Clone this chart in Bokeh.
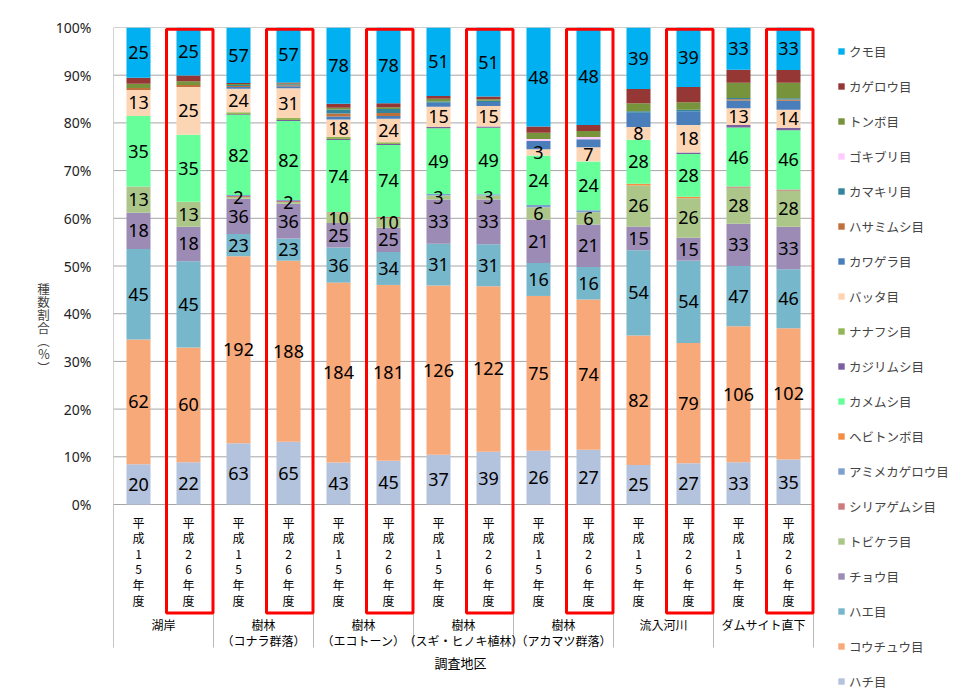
from bokeh.plotting import figure
from bokeh.models import ColumnDataSource, Range1d, FixedTicker, Legend, LegendItem
from bokeh.core.properties import value
from bokeh.embed import file_html
from bokeh.resources import INLINE

# ---- data ----
sites = ["湖岸", "樹林\n（コナラ群落）", "樹林\n（エコトーン）", "樹林\n（スギ・ヒノキ植林）",
         "樹林\n（アカマツ群落）", "流入河川", "ダムサイト直下"]
years = ["平成15年度", "平成26年度"]
x_title = "調査地区"
y_title = "種数割合︵%︶"

orders = ["ハチ目", "コウチュウ目", "ハエ目", "チョウ目", "トビケラ目", "シリアゲムシ目",
          "アミメカゲロウ目", "ヘビトンボ目", "カメムシ目", "カジリムシ目", "ナナフシ目",
          "バッタ目", "カワゲラ目", "ハサミムシ目", "カマキリ目", "ゴキブリ目", "トンボ目",
          "カゲロウ目", "クモ目"]

hachi      = [20, 22, 63, 65, 43, 45, 37, 39, 26, 27, 25, 27, 33, 35]
kouchuu    = [62, 60, 192, 188, 184, 181, 126, 122, 75, 74, 82, 79, 106, 102]
hae        = [45, 45, 23, 23, 36, 34, 31, 31, 16, 16, 54, 54, 47, 46]
chou       = [18, 18, 36, 36, 25, 25, 33, 33, 21, 21, 15, 15, 33, 33]
tobikera   = [13, 13, 2, 2, 10, 10, 3, 3, 6, 6, 26, 26, 28, 28]
shiriage   = [0, 0, 1, 1, 1, 1, 0, 0, 0, 0, 0, 0, 1, 1]
amime      = [0, 0, 1, 1, 0, 0, 1, 1, 1, 1, 0, 0, 0, 0]
hebitonbo  = [0, 0, 0, 0, 0, 0, 0, 0, 0, 0, 1, 1, 0, 0]
kamemushi  = [35, 35, 82, 82, 74, 74, 49, 49, 24, 24, 28, 28, 46, 46]
kajiri     = [0, 0, 1, 1, 1, 1, 1, 1, 0, 0, 0, 1, 2, 2]
nanafushi  = [0, 0, 2, 2, 2, 2, 0, 0, 0, 0, 0, 0, 0, 0]
batta      = [13, 25, 24, 31, 18, 24, 15, 15, 3, 7, 8, 18, 13, 14]
kawagera   = [0, 0, 2, 2, 3, 3, 3, 3, 4, 4, 9, 9, 6, 7]
hasami     = [1, 1, 1, 1, 3, 3, 0, 0, 0, 0, 0, 0, 1, 1]
kamakiri   = [0, 0, 1, 1, 4, 4, 1, 1, 0, 0, 1, 1, 1, 1]
gokiburi   = [0, 0, 0, 0, 0, 0, 0, 0, 1, 1, 0, 0, 0, 0]
tonbo      = [2, 2, 1, 1, 2, 2, 2, 1, 3, 3, 5, 5, 12, 12]
kagerou    = [3, 3, 1, 1, 4, 4, 2, 2, 3, 3, 9, 10, 10, 10]
kumo       = [25, 25, 57, 57, 78, 78, 51, 51, 48, 48, 39, 39, 33, 33]

series = [hachi, kouchuu, hae, chou, tobikera, shiriage, amime, hebitonbo, kamemushi,
          kajiri, nanafushi, batta, kawagera, hasami, kamakiri, gokiburi, tonbo, kagerou, kumo]

colors = ["#B4C3DD", "#F8A97A", "#77B7CC", "#9C8BB5", "#ACC68A", "#CC7A7A", "#7F9FCE",
          "#F38E43", "#66FF99", "#7B5F9E", "#93B655", "#FCD5B5", "#4A7EBB", "#C0703A",
          "#31859C", "#FFCCFF", "#77933C", "#953735", "#00B0F0"]

labeled = ["ハチ目", "コウチュウ目", "ハエ目", "チョウ目", "トビケラ目", "カメムシ目", "バッタ目", "クモ目"]

# ---- derived ----
n = len(hachi)
xs = [i + 0.5 for i in range(n)]
totals = [sum(s[i] for s in series) for i in range(n)]
data = {"x": xs}
for name, s in zip(orders, series):
    data[name] = [100.0 * v / t for v, t in zip(s, totals)]
src = ColumnDataSource(data)

lab_x, lab_y, lab_t = [], [], []
for i in range(n):
    base = 0.0
    for name, s in zip(orders, series):
        pct = 100.0 * s[i] / totals[i]
        if name in labeled and s[i] > 0:
            lab_x.append(xs[i]); lab_y.append(base + pct / 2); lab_t.append(str(s[i]))
        base += pct

JP = "Noto Sans CJK JP"
GRID = "#a6a6a6"

# frame spans chart + category labels + legend area
p = figure(width=954, height=693, output_backend="svg", toolbar_location=None,
           x_range=Range1d(0, 16.82), y_range=Range1d(-39.62, 100),
           min_border_left=113, min_border_right=0, min_border_top=27, min_border_bottom=0)
p.outline_line_color = None
p.background_fill_color = "white"

ticks = list(range(0, 101, 10))
p.yaxis.ticker = FixedTicker(ticks=ticks)
p.yaxis.major_label_overrides = {t: f"{t}%" for t in ticks}
p.yaxis.major_tick_line_color = None
p.yaxis.minor_tick_line_color = None
p.yaxis.axis_line_color = None
p.yaxis.major_label_text_font = "Noto Sans"
p.yaxis.major_label_text_font_size = "14px"
p.yaxis.major_label_text_color = "#222222"
p.yaxis.major_label_standoff = 16
# vertical title: one character per line, padded below so it sits where the reference has it
p.yaxis.axis_label = "\n".join(list(y_title) + ["　"] * 5)
p.yaxis.axis_label_orientation = "horizontal"
p.yaxis.axis_label_text_font = JP
p.yaxis.axis_label_text_font_style = "normal"
p.yaxis.axis_label_text_font_size = "12.5px"
p.yaxis.axis_label_text_line_height = 0.69
p.yaxis.axis_label_standoff = 3

p.grid.visible = False
p.xaxis.visible = False

# horizontal gridlines over the chart columns only
p.segment(x0=[0] * len(ticks), y0=ticks, x1=[n] * len(ticks), y1=ticks,
          line_color=GRID, line_width=1)
# y axis line and group separators
sep_x = [2 * k for k in range(0, len(sites) + 1)]
p.segment(x0=[0], y0=[100], x1=[0], y1=[-30], line_color=GRID, line_width=1)
p.segment(x0=sep_x, y0=[0] * len(sep_x), x1=sep_x, y1=[-30] * len(sep_x),
          line_color="#b8b8b8", line_width=1)

rs = p.vbar_stack(orders, x="x", width=0.48, color=colors, source=src, line_width=0)

p.text(x=lab_x, y=lab_y, text=lab_t, text_align="center", text_baseline="middle",
       text_font=value("Noto Sans"), text_font_size="18px", text_color="black")

# sub labels (vertical text)
sub_t = ["\n".join(list(years[i % 2])) for i in range(n)]
p.text(x=xs, y=[-1.9] * n, text=sub_t, text_align="center", text_baseline="top",
       text_font=value(JP), text_font_size="12px", text_line_height=0.92, text_color="black")

# group labels
gx = [2 * k + 1 for k in range(len(sites))]
p.text(x=gx, y=[-23.4] * len(sites), text=sites, text_align="center", text_baseline="top",
       text_font=value(JP), text_font_size="12px", text_line_height=0.92, text_color="black")

# x title
p.text(x=[n / 2 - 0.06], y=[-33.1], text=[x_title], text_align="center", text_baseline="middle",
       text_font=value(JP), text_font_size="13px", text_color="black")

# red frames around 平成26年度
rx = [xs[i] + 0.025 for i in range(n) if i % 2 == 1]
p.rect(x=rx, y=[(99.65 - 22.75) / 2] * len(rx), width=0.93, height=99.65 + 22.75,
       fill_color=None, line_color="#FF0000", line_width=3)

items = [LegendItem(label=name, renderers=[r]) for name, r in zip(orders, rs)][::-1]
legend = Legend(items=items, location=(724, 2), orientation="vertical",
                glyph_width=8, glyph_height=8, label_height=20, spacing=15,
                padding=0, margin=0, border_line_color=None, background_fill_alpha=0,
                label_text_font=JP, label_text_font_size="12.5px", label_standoff=4)
p.add_layout(legend)

open("out.html", "w").write(file_html(p, INLINE))
